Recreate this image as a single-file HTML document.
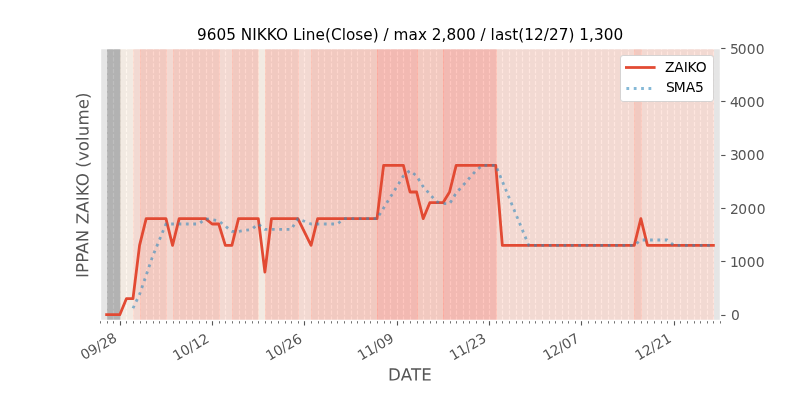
<!DOCTYPE html>
<html lang="en"><head><meta charset="utf-8"><title>9605 NIKKO</title>
<style>html,body{margin:0;padding:0;background:#fff;width:800px;height:400px;overflow:hidden}</style></head>
<body>
<svg width="800" height="400" viewBox="0 0 800 400" style="display:block;font-family:'DejaVu Sans', 'Liberation Sans', sans-serif">
<rect x="0" y="0" width="800" height="400" fill="#ffffff"/>
<rect x="100.0" y="48.0" width="620.0" height="272.0" fill="#e5e5e5"/>
<defs><clipPath id="ax"><rect x="100" y="48" width="620" height="272"/></clipPath></defs>
<g clip-path="url(#ax)">
<g stroke="#ffffff" stroke-width="1.11" stroke-dasharray="4.11 1.78" fill="none">
<path d="M100.5 320.6V48.0"/>
<path d="M107.5 320.6V48.0"/>
<path d="M113.5 320.6V48.0"/>
<path d="M120.5 320.6V48.0"/>
<path d="M126.5 320.6V48.0"/>
<path d="M133.5 320.6V48.0"/>
<path d="M140.5 320.6V48.0"/>
<path d="M146.5 320.6V48.0"/>
<path d="M153.5 320.6V48.0"/>
<path d="M159.5 320.6V48.0"/>
<path d="M166.5 320.6V48.0"/>
<path d="M173.5 320.6V48.0"/>
<path d="M179.5 320.6V48.0"/>
<path d="M186.5 320.6V48.0"/>
<path d="M192.5 320.6V48.0"/>
<path d="M199.5 320.6V48.0"/>
<path d="M206.5 320.6V48.0"/>
<path d="M212.5 320.6V48.0"/>
<path d="M219.5 320.6V48.0"/>
<path d="M225.5 320.6V48.0"/>
<path d="M232.5 320.6V48.0"/>
<path d="M239.5 320.6V48.0"/>
<path d="M245.5 320.6V48.0"/>
<path d="M252.5 320.6V48.0"/>
<path d="M258.5 320.6V48.0"/>
<path d="M265.5 320.6V48.0"/>
<path d="M271.5 320.6V48.0"/>
<path d="M278.5 320.6V48.0"/>
<path d="M285.5 320.6V48.0"/>
<path d="M291.5 320.6V48.0"/>
<path d="M298.5 320.6V48.0"/>
<path d="M304.5 320.6V48.0"/>
<path d="M311.5 320.6V48.0"/>
<path d="M318.5 320.6V48.0"/>
<path d="M324.5 320.6V48.0"/>
<path d="M331.5 320.6V48.0"/>
<path d="M337.5 320.6V48.0"/>
<path d="M344.5 320.6V48.0"/>
<path d="M351.5 320.6V48.0"/>
<path d="M357.5 320.6V48.0"/>
<path d="M364.5 320.6V48.0"/>
<path d="M370.5 320.6V48.0"/>
<path d="M377.5 320.6V48.0"/>
<path d="M384.5 320.6V48.0"/>
<path d="M390.5 320.6V48.0"/>
<path d="M397.5 320.6V48.0"/>
<path d="M403.5 320.6V48.0"/>
<path d="M410.5 320.6V48.0"/>
<path d="M417.5 320.6V48.0"/>
<path d="M423.5 320.6V48.0"/>
<path d="M430.5 320.6V48.0"/>
<path d="M436.5 320.6V48.0"/>
<path d="M443.5 320.6V48.0"/>
<path d="M450.5 320.6V48.0"/>
<path d="M456.5 320.6V48.0"/>
<path d="M463.5 320.6V48.0"/>
<path d="M469.5 320.6V48.0"/>
<path d="M476.5 320.6V48.0"/>
<path d="M483.5 320.6V48.0"/>
<path d="M489.5 320.6V48.0"/>
<path d="M496.5 320.6V48.0"/>
<path d="M502.5 320.6V48.0"/>
<path d="M509.5 320.6V48.0"/>
<path d="M516.5 320.6V48.0"/>
<path d="M522.5 320.6V48.0"/>
<path d="M529.5 320.6V48.0"/>
<path d="M535.5 320.6V48.0"/>
<path d="M542.5 320.6V48.0"/>
<path d="M549.5 320.6V48.0"/>
<path d="M555.5 320.6V48.0"/>
<path d="M562.5 320.6V48.0"/>
<path d="M568.5 320.6V48.0"/>
<path d="M575.5 320.6V48.0"/>
<path d="M581.5 320.6V48.0"/>
<path d="M588.5 320.6V48.0"/>
<path d="M595.5 320.6V48.0"/>
<path d="M601.5 320.6V48.0"/>
<path d="M608.5 320.6V48.0"/>
<path d="M614.5 320.6V48.0"/>
<path d="M621.5 320.6V48.0"/>
<path d="M628.5 320.6V48.0"/>
<path d="M634.5 320.6V48.0"/>
<path d="M641.5 320.6V48.0"/>
<path d="M647.5 320.6V48.0"/>
<path d="M654.5 320.6V48.0"/>
<path d="M661.5 320.6V48.0"/>
<path d="M667.5 320.6V48.0"/>
<path d="M674.5 320.6V48.0"/>
<path d="M680.5 320.6V48.0"/>
<path d="M687.5 320.6V48.0"/>
<path d="M694.5 320.6V48.0"/>
<path d="M700.5 320.6V48.0"/>
<path d="M707.5 320.6V48.0"/>
<path d="M713.5 320.6V48.0"/>
<path d="M720.5 320.6V48.0"/>
</g>
<rect x="107.5" y="48.5" width="13.0" height="272.0" fill="rgb(128,128,128)" fill-opacity="0.5" stroke="rgb(128,128,128)" stroke-opacity="0.5" stroke-width="0.69"/>
<rect x="120.5" y="48.5" width="13.0" height="272.0" fill="rgb(255,239,223)" fill-opacity="0.5" stroke="rgb(255,239,223)" stroke-opacity="0.5" stroke-width="0.69"/>
<rect x="133.5" y="48.5" width="7.0" height="272.0" fill="rgb(255,205,191)" fill-opacity="0.5" stroke="rgb(255,205,191)" stroke-opacity="0.5" stroke-width="0.69"/>
<rect x="140.5" y="48.5" width="26.0" height="272.0" fill="rgb(253,173,155)" fill-opacity="0.5" stroke="rgb(253,173,155)" stroke-opacity="0.5" stroke-width="0.69"/>
<rect x="166.5" y="48.5" width="7.0" height="272.0" fill="rgb(255,205,191)" fill-opacity="0.5" stroke="rgb(255,205,191)" stroke-opacity="0.5" stroke-width="0.69"/>
<rect x="173.5" y="48.5" width="46.0" height="272.0" fill="rgb(253,173,155)" fill-opacity="0.5" stroke="rgb(253,173,155)" stroke-opacity="0.5" stroke-width="0.69"/>
<rect x="219.5" y="48.5" width="13.0" height="272.0" fill="rgb(255,205,191)" fill-opacity="0.5" stroke="rgb(255,205,191)" stroke-opacity="0.5" stroke-width="0.69"/>
<rect x="232.5" y="48.5" width="26.0" height="272.0" fill="rgb(253,173,155)" fill-opacity="0.5" stroke="rgb(253,173,155)" stroke-opacity="0.5" stroke-width="0.69"/>
<rect x="258.5" y="48.5" width="7.0" height="272.0" fill="rgb(255,239,223)" fill-opacity="0.5" stroke="rgb(255,239,223)" stroke-opacity="0.5" stroke-width="0.69"/>
<rect x="265.5" y="48.5" width="33.0" height="272.0" fill="rgb(253,173,155)" fill-opacity="0.5" stroke="rgb(253,173,155)" stroke-opacity="0.5" stroke-width="0.69"/>
<rect x="298.5" y="48.5" width="13.0" height="272.0" fill="rgb(255,205,191)" fill-opacity="0.5" stroke="rgb(255,205,191)" stroke-opacity="0.5" stroke-width="0.69"/>
<rect x="311.5" y="48.5" width="66.0" height="272.0" fill="rgb(253,173,155)" fill-opacity="0.5" stroke="rgb(253,173,155)" stroke-opacity="0.5" stroke-width="0.69"/>
<rect x="377.5" y="48.5" width="40.0" height="272.0" fill="rgb(255,141,127)" fill-opacity="0.5" stroke="rgb(255,141,127)" stroke-opacity="0.5" stroke-width="0.69"/>
<rect x="417.5" y="48.5" width="26.0" height="272.0" fill="rgb(253,173,155)" fill-opacity="0.5" stroke="rgb(253,173,155)" stroke-opacity="0.5" stroke-width="0.69"/>
<rect x="443.5" y="48.5" width="53.0" height="272.0" fill="rgb(255,141,127)" fill-opacity="0.5" stroke="rgb(255,141,127)" stroke-opacity="0.5" stroke-width="0.69"/>
<rect x="496.5" y="48.5" width="138.0" height="272.0" fill="rgb(255,205,191)" fill-opacity="0.5" stroke="rgb(255,205,191)" stroke-opacity="0.5" stroke-width="0.69"/>
<rect x="634.5" y="48.5" width="7.0" height="272.0" fill="rgb(253,173,155)" fill-opacity="0.5" stroke="rgb(253,173,155)" stroke-opacity="0.5" stroke-width="0.69"/>
<rect x="641.5" y="48.5" width="72.0" height="272.0" fill="rgb(255,205,191)" fill-opacity="0.5" stroke="rgb(255,205,191)" stroke-opacity="0.5" stroke-width="0.69"/>
</g>
<path d="M100.5 48.5H720.5V320.5H100.5Z" fill="none" stroke="#ffffff" stroke-width="1.39"/>
<polyline points="106.60,314.67 113.19,314.67 119.79,314.67 126.38,298.67 132.98,298.67 139.57,245.33 146.17,218.67 152.77,218.67 159.36,218.67 165.96,218.67 172.55,245.33 179.15,218.67 185.74,218.67 192.34,218.67 198.94,218.67 205.53,218.67 212.13,224.00 218.72,224.00 225.32,245.33 231.91,245.33 238.51,218.67 245.11,218.67 251.70,218.67 258.30,218.67 264.89,272.00 271.49,218.67 278.09,218.67 284.68,218.67 291.28,218.67 297.87,218.67 311.06,245.33 317.66,218.67 324.26,218.67 330.85,218.67 337.45,218.67 344.04,218.67 350.64,218.67 357.23,218.67 363.83,218.67 370.43,218.67 377.02,218.67 383.62,165.33 390.21,165.33 396.81,165.33 403.40,165.33 410.00,192.00 416.60,192.00 423.19,218.67 429.79,202.67 436.38,202.67 442.98,202.67 449.57,192.00 456.17,165.33 462.77,165.33 469.36,165.33 475.96,165.33 482.55,165.33 489.15,165.33 495.74,165.33 502.34,245.33 508.94,245.33 515.53,245.33 522.13,245.33 528.72,245.33 535.32,245.33 541.91,245.33 548.51,245.33 555.11,245.33 561.70,245.33 568.30,245.33 574.89,245.33 581.49,245.33 588.09,245.33 594.68,245.33 601.28,245.33 607.87,245.33 614.47,245.33 621.06,245.33 627.66,245.33 634.26,245.33 640.85,218.67 647.45,245.33 654.04,245.33 660.64,245.33 667.23,245.33 673.83,245.33 680.43,245.33 687.02,245.33 693.62,245.33 700.21,245.33 706.81,245.33 713.40,245.33" fill="none" stroke="#e24a33" stroke-width="2.78" stroke-linejoin="round" stroke-linecap="square"/>
<polyline points="132.98,308.27 139.57,294.40 146.17,275.20 152.77,256.00 159.36,240.00 165.96,224.00 172.55,224.00 179.15,224.00 185.74,224.00 192.34,224.00 198.94,224.00 205.53,218.67 212.13,219.73 218.72,220.80 225.32,226.13 231.91,231.47 238.51,231.47 245.11,230.40 251.70,229.33 258.30,224.00 264.89,229.33 271.49,229.33 278.09,229.33 284.68,229.33 291.28,229.33 297.87,218.67 311.06,224.00 317.66,224.00 324.26,224.00 330.85,224.00 337.45,224.00 344.04,218.67 350.64,218.67 357.23,218.67 363.83,218.67 370.43,218.67 377.02,218.67 383.62,208.00 390.21,197.33 396.81,186.67 403.40,176.00 410.00,170.67 416.60,176.00 423.19,186.67 429.79,194.13 436.38,201.60 442.98,203.73 449.57,203.73 456.17,193.07 462.77,185.60 469.36,178.13 475.96,170.67 482.55,165.33 489.15,165.33 495.74,165.33 502.34,181.33 508.94,197.33 515.53,213.33 522.13,229.33 528.72,245.33 535.32,245.33 541.91,245.33 548.51,245.33 555.11,245.33 561.70,245.33 568.30,245.33 574.89,245.33 581.49,245.33 588.09,245.33 594.68,245.33 601.28,245.33 607.87,245.33 614.47,245.33 621.06,245.33 627.66,245.33 634.26,245.33 640.85,240.00 647.45,240.00 654.04,240.00 660.64,240.00 667.23,240.00 673.83,245.33 680.43,245.33 687.02,245.33 693.62,245.33 700.21,245.33 706.81,245.33 713.40,245.33" fill="none" stroke="#348abd" stroke-opacity="0.6" stroke-width="2.78" stroke-dasharray="2.78 4.587" stroke-linejoin="round"/>
<g fill="#555555">
<rect x="100.085" y="321.2" width="0.83" height="2.3"/>
<rect x="107.085" y="321.2" width="0.83" height="2.3"/>
<rect x="113.085" y="321.2" width="0.83" height="2.3"/>
<rect x="119.945" y="321.2" width="1.11" height="4.3"/>
<rect x="126.085" y="321.2" width="0.83" height="2.3"/>
<rect x="133.085" y="321.2" width="0.83" height="2.3"/>
<rect x="140.085" y="321.2" width="0.83" height="2.3"/>
<rect x="146.085" y="321.2" width="0.83" height="2.3"/>
<rect x="153.085" y="321.2" width="0.83" height="2.3"/>
<rect x="159.085" y="321.2" width="0.83" height="2.3"/>
<rect x="166.085" y="321.2" width="0.83" height="2.3"/>
<rect x="173.085" y="321.2" width="0.83" height="2.3"/>
<rect x="179.085" y="321.2" width="0.83" height="2.3"/>
<rect x="186.085" y="321.2" width="0.83" height="2.3"/>
<rect x="192.085" y="321.2" width="0.83" height="2.3"/>
<rect x="199.085" y="321.2" width="0.83" height="2.3"/>
<rect x="206.085" y="321.2" width="0.83" height="2.3"/>
<rect x="211.945" y="321.2" width="1.11" height="4.3"/>
<rect x="219.085" y="321.2" width="0.83" height="2.3"/>
<rect x="225.085" y="321.2" width="0.83" height="2.3"/>
<rect x="232.085" y="321.2" width="0.83" height="2.3"/>
<rect x="239.085" y="321.2" width="0.83" height="2.3"/>
<rect x="245.085" y="321.2" width="0.83" height="2.3"/>
<rect x="252.085" y="321.2" width="0.83" height="2.3"/>
<rect x="258.085" y="321.2" width="0.83" height="2.3"/>
<rect x="265.085" y="321.2" width="0.83" height="2.3"/>
<rect x="271.085" y="321.2" width="0.83" height="2.3"/>
<rect x="278.085" y="321.2" width="0.83" height="2.3"/>
<rect x="285.085" y="321.2" width="0.83" height="2.3"/>
<rect x="291.085" y="321.2" width="0.83" height="2.3"/>
<rect x="298.085" y="321.2" width="0.83" height="2.3"/>
<rect x="303.945" y="321.2" width="1.11" height="4.3"/>
<rect x="311.085" y="321.2" width="0.83" height="2.3"/>
<rect x="318.085" y="321.2" width="0.83" height="2.3"/>
<rect x="324.085" y="321.2" width="0.83" height="2.3"/>
<rect x="331.085" y="321.2" width="0.83" height="2.3"/>
<rect x="337.085" y="321.2" width="0.83" height="2.3"/>
<rect x="344.085" y="321.2" width="0.83" height="2.3"/>
<rect x="351.085" y="321.2" width="0.83" height="2.3"/>
<rect x="357.085" y="321.2" width="0.83" height="2.3"/>
<rect x="364.085" y="321.2" width="0.83" height="2.3"/>
<rect x="370.085" y="321.2" width="0.83" height="2.3"/>
<rect x="377.085" y="321.2" width="0.83" height="2.3"/>
<rect x="384.085" y="321.2" width="0.83" height="2.3"/>
<rect x="390.085" y="321.2" width="0.83" height="2.3"/>
<rect x="396.945" y="321.2" width="1.11" height="4.3"/>
<rect x="403.085" y="321.2" width="0.83" height="2.3"/>
<rect x="410.085" y="321.2" width="0.83" height="2.3"/>
<rect x="417.085" y="321.2" width="0.83" height="2.3"/>
<rect x="423.085" y="321.2" width="0.83" height="2.3"/>
<rect x="430.085" y="321.2" width="0.83" height="2.3"/>
<rect x="436.085" y="321.2" width="0.83" height="2.3"/>
<rect x="443.085" y="321.2" width="0.83" height="2.3"/>
<rect x="450.085" y="321.2" width="0.83" height="2.3"/>
<rect x="456.085" y="321.2" width="0.83" height="2.3"/>
<rect x="463.085" y="321.2" width="0.83" height="2.3"/>
<rect x="469.085" y="321.2" width="0.83" height="2.3"/>
<rect x="476.085" y="321.2" width="0.83" height="2.3"/>
<rect x="483.085" y="321.2" width="0.83" height="2.3"/>
<rect x="488.945" y="321.2" width="1.11" height="4.3"/>
<rect x="496.085" y="321.2" width="0.83" height="2.3"/>
<rect x="502.085" y="321.2" width="0.83" height="2.3"/>
<rect x="509.085" y="321.2" width="0.83" height="2.3"/>
<rect x="516.085" y="321.2" width="0.83" height="2.3"/>
<rect x="522.085" y="321.2" width="0.83" height="2.3"/>
<rect x="529.085" y="321.2" width="0.83" height="2.3"/>
<rect x="535.085" y="321.2" width="0.83" height="2.3"/>
<rect x="542.085" y="321.2" width="0.83" height="2.3"/>
<rect x="549.085" y="321.2" width="0.83" height="2.3"/>
<rect x="555.085" y="321.2" width="0.83" height="2.3"/>
<rect x="562.085" y="321.2" width="0.83" height="2.3"/>
<rect x="568.085" y="321.2" width="0.83" height="2.3"/>
<rect x="575.085" y="321.2" width="0.83" height="2.3"/>
<rect x="580.945" y="321.2" width="1.11" height="4.3"/>
<rect x="588.085" y="321.2" width="0.83" height="2.3"/>
<rect x="595.085" y="321.2" width="0.83" height="2.3"/>
<rect x="601.085" y="321.2" width="0.83" height="2.3"/>
<rect x="608.085" y="321.2" width="0.83" height="2.3"/>
<rect x="614.085" y="321.2" width="0.83" height="2.3"/>
<rect x="621.085" y="321.2" width="0.83" height="2.3"/>
<rect x="628.085" y="321.2" width="0.83" height="2.3"/>
<rect x="634.085" y="321.2" width="0.83" height="2.3"/>
<rect x="641.085" y="321.2" width="0.83" height="2.3"/>
<rect x="647.085" y="321.2" width="0.83" height="2.3"/>
<rect x="654.085" y="321.2" width="0.83" height="2.3"/>
<rect x="661.085" y="321.2" width="0.83" height="2.3"/>
<rect x="667.085" y="321.2" width="0.83" height="2.3"/>
<rect x="673.945" y="321.2" width="1.11" height="4.3"/>
<rect x="680.085" y="321.2" width="0.83" height="2.3"/>
<rect x="687.085" y="321.2" width="0.83" height="2.3"/>
<rect x="694.085" y="321.2" width="0.83" height="2.3"/>
<rect x="700.085" y="321.2" width="0.83" height="2.3"/>
<rect x="707.085" y="321.2" width="0.83" height="2.3"/>
<rect x="713.085" y="321.2" width="0.83" height="2.3"/>
<rect x="720.085" y="321.2" width="0.83" height="2.3"/>
<rect x="721.2" y="314.945" width="4.3" height="1.11"/>
<rect x="721.2" y="260.945" width="4.3" height="1.11"/>
<rect x="721.2" y="207.945" width="4.3" height="1.11"/>
<rect x="721.2" y="154.945" width="4.3" height="1.11"/>
<rect x="721.2" y="100.945" width="4.3" height="1.11"/>
<rect x="721.2" y="47.945" width="4.3" height="1.11"/>
</g>
<g fill="#555555" font-size="13.889px">
<text transform="translate(84.08,360.30) rotate(-30)" textLength="39.2" lengthAdjust="spacing">09/28</text>
<text transform="translate(176.32,360.90) rotate(-30)" textLength="39.2" lengthAdjust="spacing">10/12</text>
<text transform="translate(269.16,361.10) rotate(-30)" textLength="39.2" lengthAdjust="spacing">10/26</text>
<text transform="translate(361.00,360.80) rotate(-30)" textLength="39.2" lengthAdjust="spacing">11/09</text>
<text transform="translate(453.09,360.80) rotate(-30)" textLength="39.2" lengthAdjust="spacing">11/23</text>
<text transform="translate(546.38,360.80) rotate(-30)" textLength="39.2" lengthAdjust="spacing">12/07</text>
<text transform="translate(638.42,360.80) rotate(-30)" textLength="39.2" lengthAdjust="spacing">12/21</text>
<text x="730.95" y="319.97">0</text>
<text x="730.00 737.80 746.80 755.80" y="266.63">1000</text>
<text x="730.00 738.20 747.40 756.70" y="214.30">2000</text>
<text x="730.00 737.80 746.80 755.80" y="159.97">3000</text>
<text x="730.00 737.80 746.80 755.80" y="106.63">4000</text>
<text x="730.00 737.80 746.80 755.80" y="54.30">5000</text>
</g>
<text transform="translate(387.9,380.6) rotate(0.03)" font-size="16.667px" fill="#555555" textLength="43.95" lengthAdjust="spacing">DATE</text>
<text transform="translate(88.4,185.1) rotate(-89.97)" x="-92.8" y="0" font-size="16.667px" fill="#555555" textLength="185.5" lengthAdjust="spacing">IPPAN ZAIKO (volume)</text>
<text x="197.0" y="39.6" font-size="15.278px" fill="#000000" textLength="426.1" lengthAdjust="spacing">9605 NIKKO Line(Close) / max 2,800 / last(12/27) 1,300</text>
<rect x="620.5" y="55.5" width="93" height="46" rx="2.6" ry="2.6" fill="#ffffff" stroke="#cccccc" stroke-width="0.8"/>
<path d="M626.4 67.5h27.8" stroke="#e24a33" stroke-width="2.78" stroke-linecap="square" fill="none"/>
<path d="M626.4 88.5h27.8" stroke="#348abd" stroke-opacity="0.6" stroke-width="2.78" stroke-dasharray="2.78 4.587" fill="none"/>
<text x="665.0" y="72.4" font-size="13.889px" fill="#000000" textLength="41.7" lengthAdjust="spacing">ZAIKO</text>
<text x="666.0 673.8 685.8 695.0" y="91.8" font-size="13.889px" fill="#000000">SMA5</text>
</svg>
</body></html>
